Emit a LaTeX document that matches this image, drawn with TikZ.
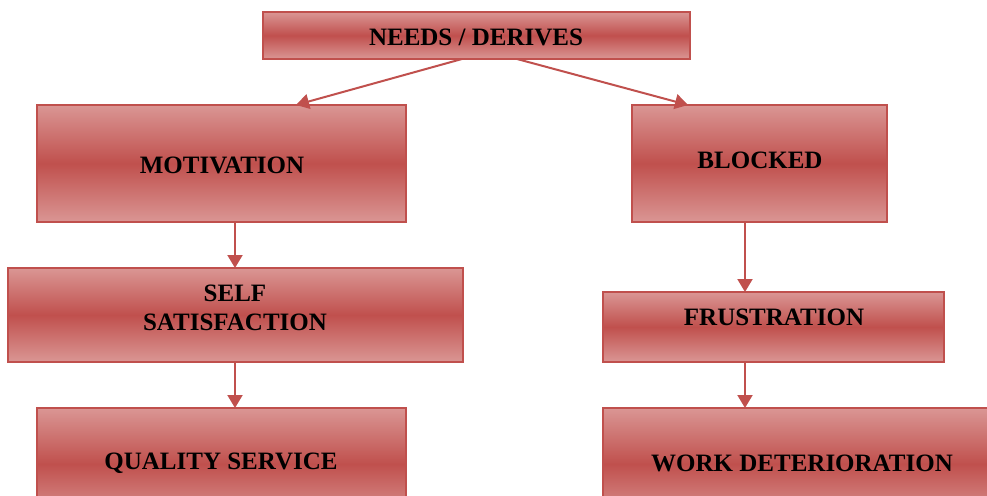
\documentclass[tikz,border=0pt]{standalone}
\usepackage{fontspec}
\setmainfont{Liberation Serif}
\usetikzlibrary{arrows.meta,shadings}
\definecolor{boxdark}{HTML}{C0504D}
\definecolor{boxlight}{HTML}{DA9694}
\definecolor{boxedge}{HTML}{C0504D}
\tikzset{
  flowbox/.style={draw=boxedge, line width=1.6pt, top color=boxlight,
    bottom color=boxlight, middle color=boxdark},
  boxtext/.style={font=\bfseries\fontsize{25}{29}\selectfont, align=center, text=black},
  flowarrow/.style={draw=boxedge, line width=2pt,
    -{Triangle[width=15pt,length=13pt]}}
}
\begin{document}
\begin{tikzpicture}[x=1pt,y=-1pt]
  \useasboundingbox (0,0) rectangle (987,495);
  \clip (0,0) rectangle (987,495);
  % boxes
  \path[flowbox] (263,12) rectangle (690,59);
  \coordinate (needsL) at (462,59);
  \coordinate (needsR) at (517,59);
  \path[flowbox] (37,105) rectangle (406,222);
  \path[flowbox] (632,105) rectangle (887,222);
  \path[flowbox] (8,268) rectangle (463,362);
  \path[flowbox] (603,292) rectangle (944,362);
  \path[flowbox] (37,408) rectangle (406,520);
  \path[flowbox] (603,408) rectangle (1010,520);
  % labels
  \node[boxtext] (needs) at (476,37) {NEEDS / DERIVES};
  \node[boxtext] (motiv) at (222,165) {MOTIVATION};
  \node[boxtext] (block) at (760,160) {BLOCKED};
  \node[boxtext] (self) at (235,308) {SELF\\SATISFACTION};
  \node[boxtext] (frust) at (774,317) {FRUSTRATION};
  \node[boxtext] (qual) at (221,463) {QUALITY SERVICE};
  \node[boxtext] (work) at (802,463) {WORK DETERIORATION};
  % connector end points on box edges
  \coordinate (motivT) at (296,105);
  \coordinate (blockT) at (688,105);
  \coordinate (motivB) at (235,222);
  \coordinate (selfT) at (235,268);
  \coordinate (selfB) at (235,362);
  \coordinate (qualT) at (235,408);
  \coordinate (blockB) at (745,222);
  \coordinate (frustT) at (745,292);
  \coordinate (frustB) at (745,362);
  \coordinate (workT) at (745,408);
  % connectors
  \draw[flowarrow] (needsL) -- (motivT);
  \draw[flowarrow] (needsR) -- (blockT);
  \draw[flowarrow] (motivB) -- (selfT);
  \draw[flowarrow] (selfB) -- (qualT);
  \draw[flowarrow] (blockB) -- (frustT);
  \draw[flowarrow] (frustB) -- (workT);
\end{tikzpicture}
\end{document}
